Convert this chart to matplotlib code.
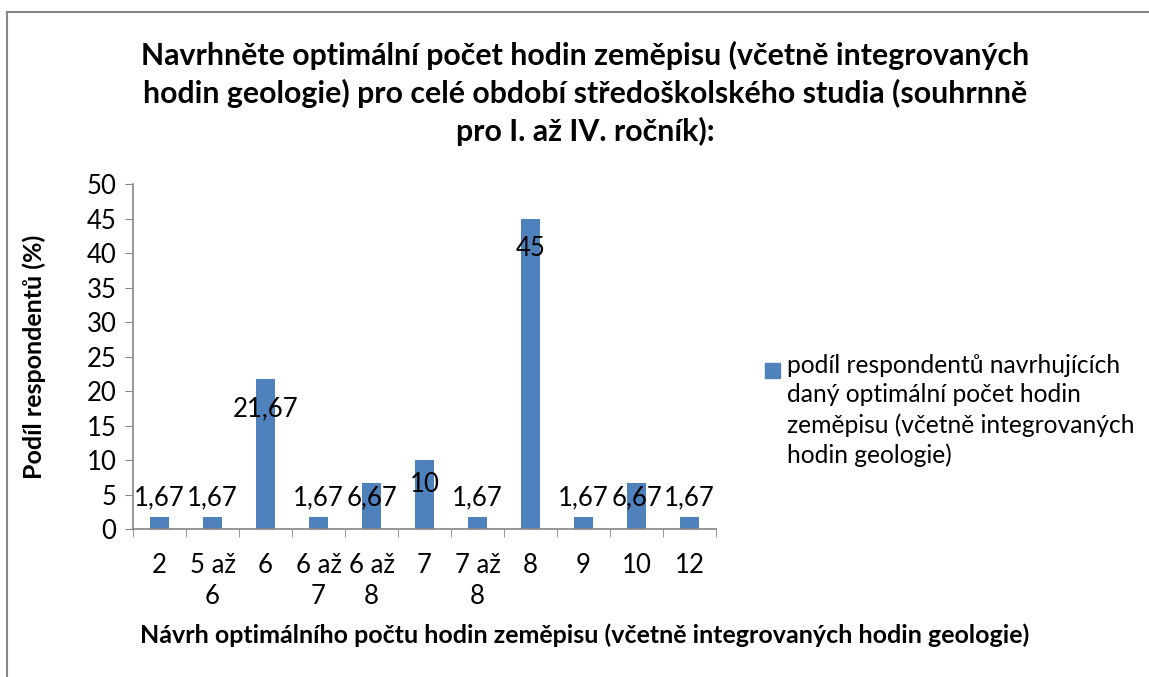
import numpy as np
import matplotlib.pyplot as plt
from matplotlib.patches import Rectangle

# --- Data ---
categories = ["2", "5 až\n6", "6", "6 až\n7", "6 až\n8", "7", "7 až\n8", "8", "9", "10", "12"]
shares = [1.67, 1.67, 21.67, 1.67, 6.67, 10, 1.67, 45, 1.67, 6.67, 1.67]
value_labels = ["1,67", "1,67", "21,67", "1,67", "6,67", "10", "1,67", "45", "1,67", "6,67", "1,67"]
y_ticks = [0, 5, 10, 15, 20, 25, 30, 35, 40, 45, 50]

title = ("Navrhněte optimální počet hodin zeměpisu (včetně integrovaných\n"
         "hodin geologie) pro celé období středoškolského studia (souhrnně\n"
         "pro I. až IV. ročník):")
legend_text = ("podíl respondentů navrhujících\ndaný optimální počet hodin\n"
               "zeměpisu (včetně integrovaných\nhodin geologie)")
x_title = "Návrh optimálního počtu hodin zeměpisu (včetně integrovaných hodin geologie)"
y_title = "Podíl respondentů (%)"

plt.rcParams['font.family'] = ['Lato', 'DejaVu Sans']
bar_color = "#4F81BD"
axis_color = "#868686"
fs = 18.5

fig = plt.figure(figsize=(11.49, 6.77), dpi=100)
ax = fig.add_axes([0.1158, 0.2186, 0.5074, 0.5096])

x = np.arange(len(categories))
ax.bar(x, shares, width=0.36, color=bar_color)

# data labels (Excel placed them by hand, mostly around the bar tops)
for xi, v, lab in zip(x, shares, value_labels):
    if v < 7:
        ly = 4.5
    elif v < 15:
        ly = v - 3.6
    else:
        ly = v - 4.3
    ax.text(xi, ly, lab, ha="center", va="center", fontsize=fs)

ax.set_xlim(-0.5, len(categories) - 0.5)
ax.set_ylim(0, 50)
ax.set_yticks(y_ticks)
ax.set_xticks(x)
ax.set_xticklabels(categories, fontsize=fs, linespacing=1.3)
ax.tick_params(axis="y", labelsize=fs, length=6, color=axis_color, pad=6)
ax.tick_params(axis="x", length=0, pad=17)
# category boundary ticks
ax.set_xticks(np.arange(-0.5, len(categories)), minor=True)
ax.tick_params(axis="x", which="minor", length=6, color=axis_color)

for s in ["top", "right"]:
    ax.spines[s].set_visible(False)
for s in ["left", "bottom"]:
    ax.spines[s].set_color(axis_color)
    ax.spines[s].set_linewidth(1.2)

ax.set_ylabel(y_title, fontsize=18, fontweight="bold", labelpad=29)
fig.text(0.509, 1 - 635 / 677, x_title, ha="center", va="center",
         fontsize=18, fontweight="bold")

fig.text(0.509, 0.94, title, ha="center", va="top", fontsize=21.8,
         fontweight="bold", linespacing=1.37)

# legend: Excel puts the key next to the first line of the wrapped text
fig.add_artist(Rectangle((765 / 1149, 1 - 378 / 677), 15 / 1149, 15 / 677,
                         transform=fig.transFigure, color=bar_color))
fig.text(787 / 1149, 1 - 354 / 677, legend_text, ha="left", va="top",
         fontsize=17.7, linespacing=1.34)

# chart border (cropped on the right and bottom)
fig.add_artist(plt.Line2D([0.0065, 0.0065], [0, 0.983], color=axis_color, lw=1.5))
fig.add_artist(plt.Line2D([0.0065, 1.0], [0.983, 0.983], color=axis_color, lw=1.5))

fig.savefig("out.png", dpi=100)
